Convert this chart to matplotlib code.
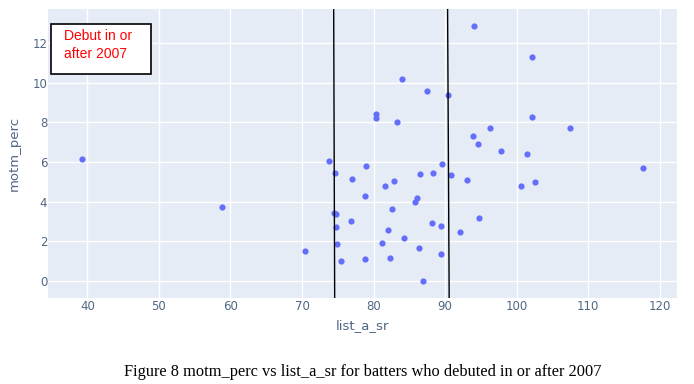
import matplotlib
matplotlib.use('Agg')
import matplotlib.pyplot as plt
from matplotlib.patches import Rectangle

# data
list_a_sr = [39.3, 58.8, 70.4, 73.75, 74.55, 74.45, 74.73, 74.73, 74.83, 75.43,
             76.9, 77.0, 78.75, 78.75, 78.9, 80.34, 80.34, 81.18, 81.55, 82.07,
             82.25, 82.6, 82.9, 83.24, 83.9, 84.2, 85.85, 86.0, 86.3, 86.5,
             86.9, 87.53, 88.14, 88.28, 89.35, 89.35, 89.5, 90.42, 90.8, 92.07,
             93.0, 93.9, 94.02, 94.6, 94.67, 96.2, 97.84, 100.64, 101.48, 102.14,
             102.14, 102.6, 107.4, 117.7]
motm_perc = [6.13, 3.74, 1.52, 6.03, 5.45, 3.43, 3.38, 2.73, 1.84, 1.01,
             3.03, 5.15, 4.26, 1.08, 5.78, 8.42, 8.22, 1.90, 4.77, 2.55,
             1.13, 3.62, 5.05, 8.0, 10.19, 2.17, 3.99, 4.19, 1.67, 5.37,
             0.0, 9.60, 2.93, 5.45, 2.76, 1.33, 5.88, 9.36, 5.34, 2.48,
             5.07, 7.31, 12.85, 6.89, 3.18, 7.71, 6.55, 4.77, 6.38, 11.30,
             8.28, 5.0, 7.71, 5.69]

# the two black vertical lines (slightly tilted in the original)
line1_x = [74.42, 74.56]
line2_x = [90.34, 90.56]

x_ticks = [40, 50, 60, 70, 80, 90, 100, 110, 120]
y_ticks = [0, 2, 4, 6, 8, 10, 12]
x_lim = (34.5, 122.4)
y_lim = (-0.87, 13.72)

fig = plt.figure(figsize=(6.94, 3.84), dpi=100)
ax = fig.add_axes([0.0692, 0.224, 0.9063, 0.7526])
ax.set_facecolor('#E5ECF6')

ax.scatter(list_a_sr, motm_perc, s=20, color='#636efa', linewidths=0, zorder=3)

ax.plot(line1_x, [y_lim[1], y_lim[0]], color='black', linewidth=1.0, zorder=4)
ax.plot(line2_x, [y_lim[1], y_lim[0]], color='black', linewidth=1.0, zorder=4)

ax.set_xlim(x_lim)
ax.set_ylim(y_lim)
ax.set_xticks(x_ticks)
ax.set_yticks(y_ticks)
ax.grid(color='white', linewidth=1.0, zorder=0)
ax.set_axisbelow(True)
for s in ax.spines.values():
    s.set_visible(False)
ax.tick_params(length=0, labelsize=8.5, colors='#506784')
ax.tick_params(axis='x', pad=1.5)
ax.tick_params(axis='y', pad=0.5)

ax.set_xlabel('list_a_sr', fontsize=9.5, color='#506784', labelpad=4)
ax.set_ylabel('motm_perc', fontsize=9.5, color='#506784', labelpad=8)

# annotation box
ax.add_patch(Rectangle((0.0048, 0.775), 0.1585, 0.172, transform=ax.transAxes,
                       facecolor='white', edgecolor='black', linewidth=1.2, zorder=5))
ax.text(0.0254, 0.93, 'Debut in or\nafter 2007', transform=ax.transAxes,
        color='red', fontsize=10, family='Liberation Sans', va='top', ha='left',
        linespacing=1.3, zorder=6)

fig.text(0.522, 1 - 372 / 384, 'Figure 8 motm_perc vs list_a_sr for batters who debuted in or after 2007',
         family='Liberation Serif', fontsize=11.8, ha='center', va='center', color='black')

fig.savefig('out.png', dpi=100)
